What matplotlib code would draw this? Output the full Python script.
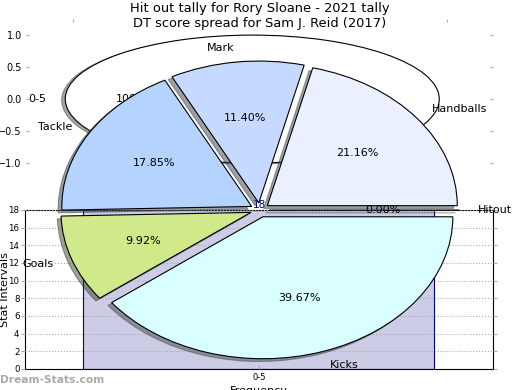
import matplotlib
matplotlib.use("Agg")
import matplotlib.pyplot as plt

# pie slices (score spread)
wedge_labels = ["Hitout", "Handballs", "Mark", "Tackle", "Goals", "Kicks"]
wedge_values = [0.00, 21.16, 11.40, 17.85, 9.92, 39.67]
wedge_colors = ["#dddddd", "#eaf0ff", "#c6d9ff", "#b4d4ff", "#cfe98b", "#d9ffff"]

# histogram of the hit out tally
interval_labels = ["0-5"]
interval_counts = [18]

title = "Hit out tally for Rory Sloane - 2021 tally\nDT score spread for Sam J. Reid (2017)"

fig = plt.figure(figsize=(5.2, 3.9), dpi=100)
edge = {"edgecolor": "black", "linewidth": 0.8}
shadow = {"ox": -0.014, "oy": -0.014}

# top panel: single slice pie of the intervals
ax_top = fig.add_axes([0.05, 0.541, 0.899, 0.410])
ax_top.pie(interval_counts, labels=interval_labels, colors=["white"], autopct="%.2f%%",
           explode=[0.04], shadow=shadow, wedgeprops=edge, textprops={"fontsize": 8})
ax_top.set_aspect("auto")
ax_top.set_xticks([-1, 0, 1])
ax_top.set_yticks([-1.0, -0.5, 0.0, 0.5, 1.0])
ax_top.tick_params(top=True, right=True, direction="in", length=2.5, pad=3,
                   color="#aaaaaa", labelsize=7)

# bottom panel: histogram
ax_bar = fig.add_axes([0.048, 0.054, 0.9, 0.408])
bars = ax_bar.bar(range(len(interval_labels)), interval_counts, width=0.75,
                  color="#cccce6", edgecolor="navy", linewidth=0.8)
ax_bar.set_xlim(-0.5, 0.5)
ax_bar.set_ylim(0, 18)
ax_bar.set_yticks(range(0, 19, 2))
ax_bar.set_xticks(range(len(interval_labels)), interval_labels)
ax_bar.tick_params(axis="y", labelsize=6.2, color="#aaaaaa", length=3, pad=1, right=True)
ax_bar.tick_params(axis="x", labelsize=6, color="#aaaaaa", direction="in", length=3, pad=3)
ax_bar.bar_label(bars, color="navy", fontsize=7.5, padding=0)
ax_bar.grid(axis="y", linestyle=":", color="#aaaaaa")
ax_bar.set_axisbelow(False)
ax_bar.set_xlabel("Frequency", fontsize=8, labelpad=3)
ax_bar.set_ylabel("Stat Intervals", fontsize=8)
ax_bar.yaxis.set_label_coords(-0.032, 0.5)

# big exploded pie drawn over both panels
ax_pie = fig.add_axes([0.0433, 0.0064, 0.913, 0.910])
ax_pie.pie(wedge_values, labels=wedge_labels, colors=wedge_colors, explode=[0.05] * 6,
           autopct="%.2f%%", shadow=shadow, wedgeprops=edge, textprops={"fontsize": 8})
ax_pie.set_aspect("auto")

fig.text(0.5, 0.995, title, ha="center", va="top", fontsize=9.4)
fig.text(0.0, 0.026, "Dream-Stats.com", color="#aaaaaa", fontsize=7.7,
         fontweight="bold", ha="left", va="center")

fig.savefig("out.png", dpi=100)
